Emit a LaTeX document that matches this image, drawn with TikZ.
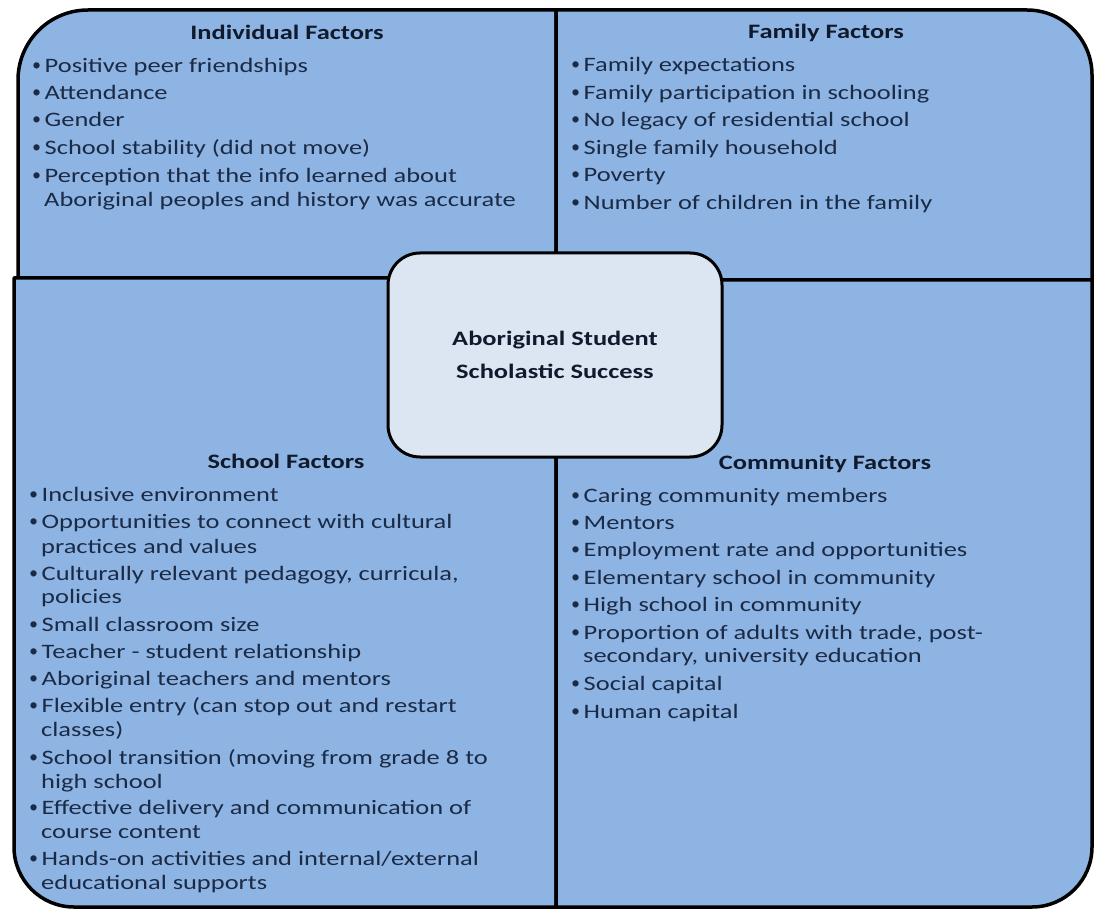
\documentclass[tikz,border=0pt]{standalone}
\usepackage{fontspec}
\setmainfont{Carlito}[FakeStretch=1.29]
\newfontfamily\bulfont{Liberation Sans}
\definecolor{quadblue}{HTML}{8EB4E3}
\definecolor{hubfill}{HTML}{DCE6F2}
\definecolor{itemtxt}{HTML}{1B2A45}
\definecolor{headtxt}{HTML}{111A2C}
\newcommand{\bul}{\makebox[9.5pt][l]{\hspace*{-2.5pt}\raisebox{-1pt}{\bulfont\fontsize{23}{24}\selectfont •}}}
\newcommand{\ind}{\hspace*{9pt}}
\begin{document}
\begin{tikzpicture}[x=1pt, y=-1pt, line join=round, line cap=round,
	quad/.style={draw=black, line width=3.5pt, fill=quadblue},
	hub/.style={draw=black, line width=3pt, fill=hubfill, rounded corners=32pt,
		minimum width=334pt, minimum height=204pt, inner sep=0pt, align=center,
		text=headtxt, font=\fontsize{20.5}{24}\selectfont\bfseries},
	item/.style={anchor=base west, inner sep=0pt, text=itemtxt, font=\fontsize{20.5}{24}\selectfont},
	head/.style={anchor=base, inner sep=0pt, text=headtxt, font=\fontsize{20.5}{24}\selectfont\bfseries}]
	\useasboundingbox (0,0) rectangle (1095,909);
	% four quadrants, outer corners rounded
	\draw[quad] (556,278) -- (18,278) -- (18,80) arc[start angle=180, end angle=270, radius=70] -- (556,10) -- cycle;
	\draw[quad] (556,280) -- (556,10) -- (1027,10) arc[start angle=270, end angle=360, radius=65] -- (1092,280) -- cycle;
	\draw[quad] (556,278) -- (14,278) -- (14,847) arc[start angle=180, end angle=90, radius=60] -- (556,907) -- cycle;
	\draw[quad] (556,280) -- (1092,280) -- (1092,847) arc[start angle=0, end angle=90, radius=60] -- (556,907) -- cycle;
	% centre box
	\node[hub] (hub) at (555,355) {Aboriginal Student\\[9pt]Scholastic Success};
	% headings
	\node[head] (indhead) at (287,39.5) {Individual Factors};
	\node[head] (famhead) at (826,39) {Family Factors};
	\node[head] (schhead) at (286,468.5) {School Factors};
	\node[head] (comhead) at (825,469.5) {Community Factors};
	% individual factors
	\foreach \y/\t [count=\i] in {73/{\bul Positive peer friendships}, 100/{\bul Attendance}, 127/{\bul Gender},
		155/{\bul School stability (did not move)}, 183/{\bul Perception that the info learned about},
		207/{\ind Aboriginal peoples and history was accurate}}
		\node[item] (ind\i) at (35,\y) {\t};
	% family factors
	\foreach \y/\t [count=\i] in {72/{\bul Family expectations}, 100/{\bul Family participation in schooling},
		127/{\bul No legacy of residential school}, 155/{\bul Single family household}, 182/{\bul Poverty},
		210/{\bul Number of children in the family}}
		\node[item] (fam\i) at (574,\y) {\t};
	% school factors
	\foreach \y/\t [count=\i] in {501/{\bul Inclusive environment}, 528/{\bul Opportunities to connect with cultural},
		553/{\ind practices and values}, 580/{\bul Culturally relevant pedagogy, curricula,}, 603/{\ind policies},
		631/{\bul Small classroom size}, 658/{\bul Teacher - student relationship}, 685/{\bul Aboriginal teachers and mentors},
		712/{\bul Flexible entry (can stop out and restart}, 736/{\ind classes)},
		764/{\bul School transition (moving from grade 8 to}, 788/{\ind high school},
		814/{\bul Effective delivery and communication of}, 838/{\ind course content},
		865/{\bul Hands-on activities and internal/external}, 889/{\ind educational supports}}
		\node[item] (sch\i) at (32,\y) {\t};
	% community factors
	\foreach \y/\t [count=\i] in {502/{\bul Caring community members}, 529/{\bul Mentors},
		556/{\bul Employment rate and opportunities}, 584/{\bul Elementary school in community},
		611/{\bul High school in community}, 639/{\bul Proportion of adults with trade, post-},
		662/{\ind secondary, university education}, 690/{\bul Social capital}, 718/{\bul Human capital}}
		\node[item] (com\i) at (574,\y) {\t};
\end{tikzpicture}
\end{document}
